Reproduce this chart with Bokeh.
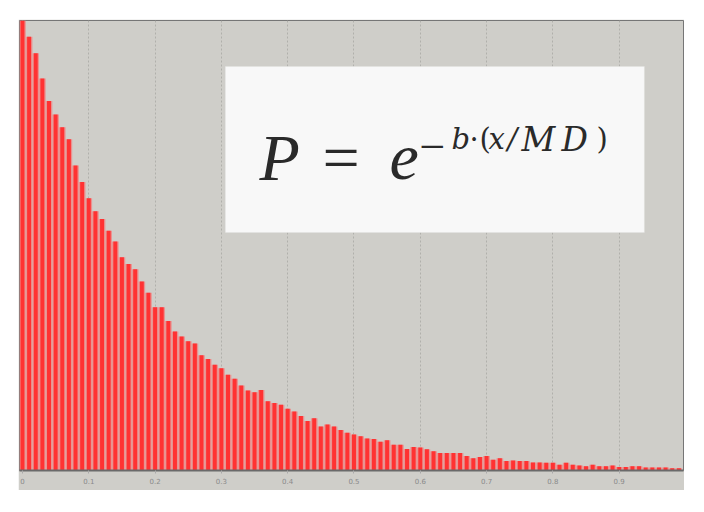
from bokeh.plotting import figure
from bokeh.models import ColumnDataSource, Label, BoxAnnotation, FixedTicker, Range1d
from bokeh.embed import file_html
from bokeh.resources import INLINE

# ---- data ----
bin_width = 0.01
heights = [
    1.000, 0.964, 0.927, 0.871, 0.821, 0.791, 0.763, 0.736, 0.678, 0.641,
    0.605, 0.576, 0.559, 0.533, 0.509, 0.474, 0.459, 0.447, 0.420, 0.395,
    0.363, 0.363, 0.332, 0.309, 0.298, 0.287, 0.282, 0.256, 0.248, 0.235,
    0.227, 0.213, 0.204, 0.189, 0.178, 0.174, 0.179, 0.154, 0.150, 0.146,
    0.137, 0.131, 0.121, 0.110, 0.116, 0.098, 0.102, 0.098, 0.090, 0.084,
    0.080, 0.076, 0.071, 0.070, 0.064, 0.067, 0.057, 0.057, 0.048, 0.052,
    0.051, 0.047, 0.043, 0.039, 0.039, 0.039, 0.039, 0.032, 0.027, 0.030,
    0.032, 0.024, 0.027, 0.021, 0.022, 0.021, 0.021, 0.018, 0.018, 0.017,
    0.017, 0.013, 0.017, 0.013, 0.011, 0.0096, 0.013, 0.0096, 0.0096, 0.011,
    0.008, 0.008, 0.0096, 0.0096, 0.0067, 0.0067, 0.0067, 0.0067, 0.005, 0.005,
]
bin_centers = [round(i * bin_width, 2) for i in range(len(heights))]
tick_values = [0.0, 0.1, 0.2, 0.3, 0.4, 0.5, 0.6, 0.7, 0.8, 0.9]
tick_labels = ["0", "0.1", "0.2", "0.3", "0.4", "0.5", "0.6", "0.7", "0.8", "0.9"]

src = ColumnDataSource(dict(x=bin_centers, top=heights))

GRAY = "#cfcec9"

p = figure(width=666, height=471, output_backend="svg", toolbar_location=None,
           x_range=Range1d(-0.0045, 0.997), y_range=Range1d(0, 1.0),
           margin=(19, 0, 0, 18),
           min_border_left=1, min_border_right=1, min_border_top=1, min_border_bottom=20,
           background_fill_color=GRAY, border_fill_color=GRAY)
p.outline_line_color = "#767676"
p.outline_line_width = 1

p.vbar(x="x", top="top", width=bin_width, bottom=0, source=src,
       fill_color="#ea9290", line_color=None)
p.vbar(x="x", top="top", width=bin_width * 0.6, bottom=0, source=src,
       fill_color="#ff3232", line_color=None)

# formula box
p.add_layout(BoxAnnotation(left=0.306, right=0.938, bottom=0.529, top=0.898,
                           fill_color="#f8f8f8", fill_alpha=1.0,
                           line_color="#e4e4e2", line_width=1))

def dx(px):
    return (px - 22) / 663.0

def dy(py):
    return (470 - py) / 450.0

MAIN_FONT = "Liberation Serif"
SUP_FONT = "DejaVu Serif"
pieces = [
    ("P", 259, 157, "66px", "italic", MAIN_FONT),
    ("=", 322, 157, "66px", "normal", MAIN_FONT),
    ("e", 389, 157, "66px", "italic", MAIN_FONT),
    ("\u2212", 419, 146, "46px", "normal", MAIN_FONT),
    ("b", 451, 138, "29px", "italic", SUP_FONT),
    ("\u00b7", 469, 138, "29px", "normal", SUP_FONT),
    ("(", 479, 138, "29px", "normal", SUP_FONT),
    ("x", 488, 138, "29px", "italic", SUP_FONT),
    ("/", 507, 138, "29px", "italic", SUP_FONT),
    ("M", 521, 139, "33px", "italic", SUP_FONT),
    ("D", 561, 139, "33px", "italic", SUP_FONT),
    (")", 596, 138, "29px", "normal", SUP_FONT),
]
for t, px, py, fs, st, fnt in pieces:
    p.add_layout(Label(x=dx(px), y=dy(py), text=t, text_font=fnt,
                       text_font_size=fs, text_font_style=st, text_color="#2a2a2a",
                       text_align="left", text_baseline="alphabetic"))

# axes / grid
p.yaxis.visible = False
p.ygrid.grid_line_color = None
p.xgrid.ticker = FixedTicker(ticks=tick_values)
p.xgrid.grid_line_color = "#b0b0ab"
p.xgrid.grid_line_dash = "2 2"
p.xgrid.grid_line_width = 1

xa = p.xaxis[0]
xa.ticker = FixedTicker(ticks=tick_values)
xa.major_label_overrides = {v: l for v, l in zip(tick_values, tick_labels)}
xa.axis_line_color = "#6a6a6a"
xa.axis_line_width = 2
xa.major_tick_line_color = "#aaaaaa"
xa.major_tick_out = 3
xa.major_tick_in = 0
xa.minor_tick_line_color = None
xa.major_label_text_font_size = "7px"
xa.major_label_text_color = "#8a8a8a"
xa.major_label_standoff = 4
xa.major_label_text_font = "DejaVu Sans"

open("out.html", "w").write(file_html(p, INLINE))
